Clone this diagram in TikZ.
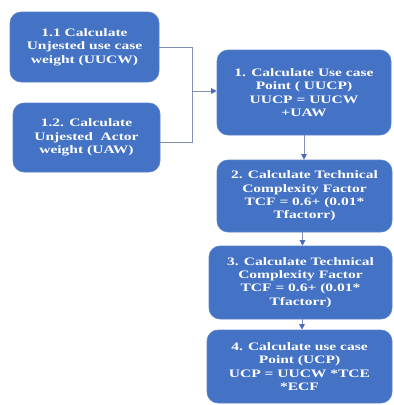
\documentclass[tikz,border=0pt]{standalone}
\usepackage{fontspec}
\newfontfamily\boxfont{Liberation Serif}[FakeStretch=1.36]
\usetikzlibrary{arrows.meta}
\definecolor{boxblue}{RGB}{68,114,196}
\definecolor{boxedge}{RGB}{92,130,205}
\definecolor{linecol}{RGB}{130,142,178}
\definecolor{tipcol}{RGB}{78,108,190}
\tikzset{
  flowbox/.style={rectangle, rounded corners=11pt, fill=boxblue, draw=boxedge, line width=0.6pt,
    text=white, align=center, inner sep=0pt,
    font=\boxfont\bfseries\fontsize{11.4}{13.4}\selectfont},
  conn/.style={draw=linecol, line width=0.9pt},
  arr/.style={conn, -{Triangle[length=5.5pt,width=5.5pt,color=tipcol,fill=tipcol]}}
}
\begin{document}
\begin{tikzpicture}[x=1pt,y=-1pt]
\useasboundingbox (0,0) rectangle (394,405);
\node[flowbox, minimum width=149pt, minimum height=70pt] (n11) at (84.5,47)
  {1.1 Calculate\\Unjested use case\\weight (UUCW)};
\node[flowbox, minimum width=147pt, minimum height=69pt] (n12) at (86.5,137.5)
  {1.2. Calculate\\Unjested\ \ Actor\\weight (UAW)};
\node[flowbox, minimum width=174pt, minimum height=85pt] (n1) at (304,92.5)
  {1. Calculate Use case\\Point ( UUCP)\\UUCP = UUCW\\+UAW};
\node[flowbox, minimum width=175pt, minimum height=72pt] (n2) at (304.5,196)
  {2. Calculate Technical\\Complexity Factor\\TCF = 0.6+ (0.01*\\Tfactorr)};
\node[flowbox, minimum width=183pt, minimum height=73pt] (n3) at (300.5,282.5)
  {3. Calculate Technical\\Complexity Factor\\TCF = 0.6+ (0.01*\\Tfactorr)};
\node[flowbox, minimum width=185pt, minimum height=73pt] (n4) at (299.5,366.5)
  {4. Calculate use case\\Point (UCP)\\UCP = UUCW *TCE\\*ECF};
\coordinate (j) at (192,91);
\draw[conn] (n11.east) -| (j);
\draw[conn] ([yshift=-5pt]n12.east) -| (j);
\draw[arr] (j) -- (n1.west |- j);
\draw[arr] (n1.south) -- (n1.south |- n2.north);
\draw[arr] ([xshift=-2pt]n2.south) -- ([xshift=-2pt]n2.south |- n3.north);
\draw[arr] ([xshift=1.5pt]n3.south) -- ([xshift=1.5pt]n3.south |- n4.north);
\end{tikzpicture}
\end{document}
